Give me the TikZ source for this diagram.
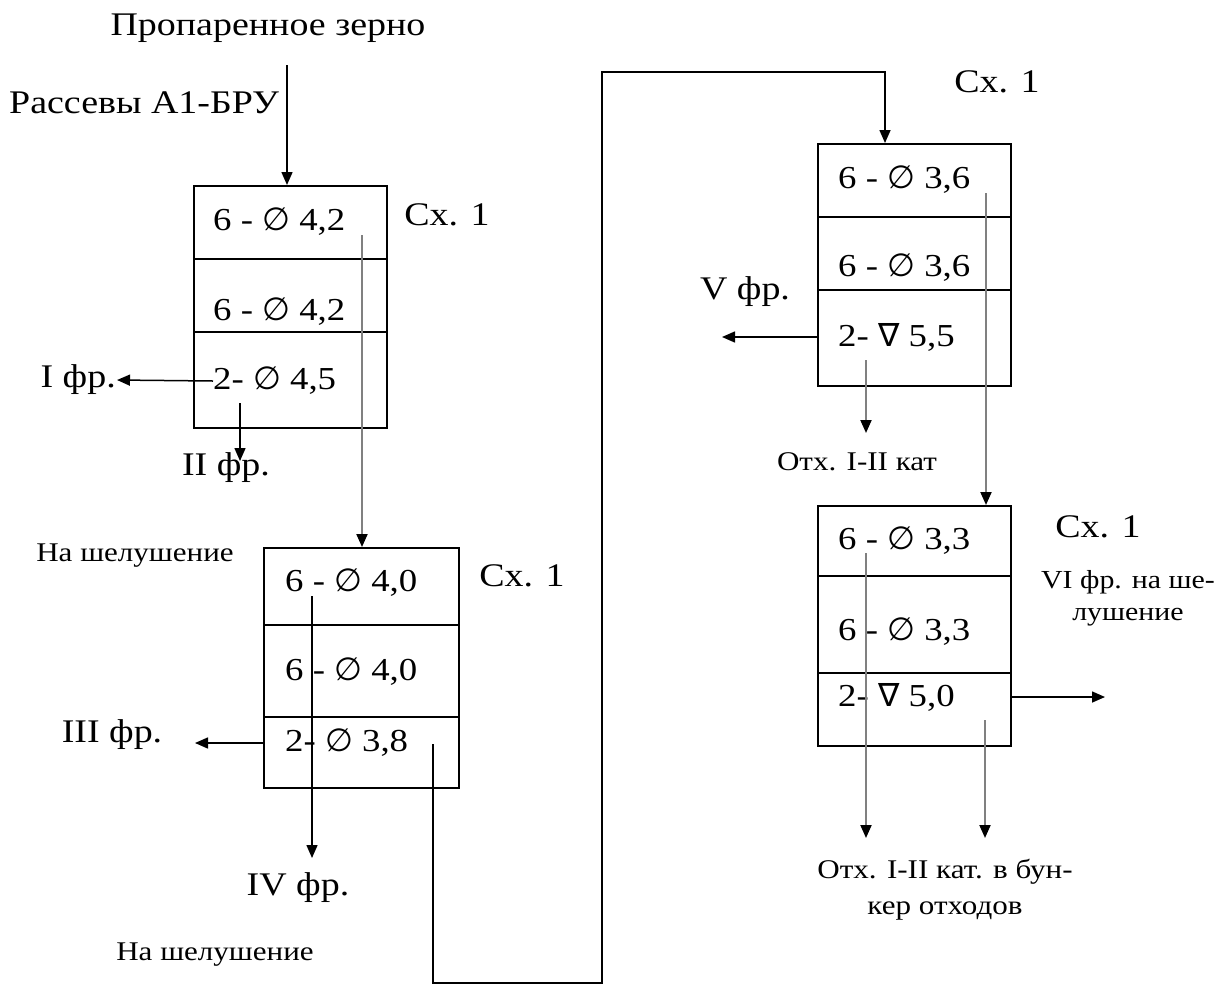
\documentclass[tikz,border=0pt]{standalone}
\usepackage{fontspec}
\setmainfont[FakeStretch=1.15]{Liberation Serif}
\newfontfamily\symf{DejaVu Sans}
\usetikzlibrary{arrows.meta, positioning, calc}
\definecolor{lineGray}{HTML}{808080}
\newcommand{\dia}{{\symf\char"2205}}
\newcommand{\nab}{{\symf\char"2207}}

\tikzset{
  rowbox/.style={draw, line width=1.5pt, minimum width=193pt, inner sep=0pt, anchor=north west},
  cell/.style={inner sep=0pt, anchor=west, font=\fontsize{32}{36}\selectfont},
  lbl/.style={inner sep=1pt, font=\fontsize{33}{36}\selectfont},
  small/.style={inner sep=1pt, font=\fontsize{27}{36}\selectfont},
  tipB/.style={-{Triangle[length=13pt,width=11pt,color=black]}},
  flow/.style={tipB, line width=1.5pt},
  grayflow/.style={tipB, line width=2pt, lineGray}
}

\begin{document}
\begin{tikzpicture}[x=1pt, y=-1pt]
  \useasboundingbox (0,0) rectangle (1226,986);

  % sieve 1
  \node[rowbox, minimum height=73pt] (b1a) at (193,185) {};
  \node[rowbox, minimum height=73pt] (b1b) at (193,258) {};
  \node[rowbox, minimum height=96pt] (b1c) at (193,331) {};
  \node[cell] (t1a) at (213,222) {6 - \dia\ 4,2};
  \node[cell] (t1b) at (213,312) {6 - \dia\ 4,2};
  \node[cell] (t1c) at (213,381) {2- \dia\ 4,5};

  % sieve 2
  \node[rowbox, minimum height=77pt, minimum width=195pt] (b2a) at (263,547) {};
  \node[rowbox, minimum height=92pt, minimum width=195pt] (b2b) at (263,624) {};
  \node[rowbox, minimum height=71pt, minimum width=195pt] (b2c) at (263,716) {};
  \node[cell] (t2a) at (285,583) {6 - \dia\ 4,0};
  \node[cell] (t2b) at (285,672) {6 - \dia\ 4,0};
  \node[cell] (t2c) at (285,743) {2- \dia\ 3,8};

  % sieve 3
  \node[rowbox, minimum height=73pt] (b3a) at (817,143) {};
  \node[rowbox, minimum height=73pt] (b3b) at (817,216) {};
  \node[rowbox, minimum height=96pt] (b3c) at (817,289) {};
  \node[cell] (t3a) at (838,180) {6 - \dia\ 3,6};
  \node[cell] (t3b) at (838,268) {6 - \dia\ 3,6};
  \node[cell] (t3c) at (838,337) {2- \nab\ 5,5};

  % sieve 4
  \node[rowbox, minimum height=70pt] (b4a) at (817,505) {};
  \node[rowbox, minimum height=97pt] (b4b) at (817,575) {};
  \node[rowbox, minimum height=73pt] (b4c) at (817,672) {};
  \node[cell] (t4a) at (838,541) {6 - \dia\ 3,3};
  \node[cell] (t4b) at (838,632) {6 - \dia\ 3,3};
  \node[cell] (t4c) at (838,697) {2- \nab\ 5,0};

  % labels
  \node[lbl] (feed) at (268,28) {Пропаренное зерно};
  \node[lbl, anchor=west] (sifter) at (8,103) {Рассевы А1-БРУ};
  \node[lbl] (sch1) at (447,215) {Сх. 1};
  \node[lbl] (sch2) at (522,576) {Сх. 1};
  \node[lbl] (sch3) at (997,82) {Сх. 1};
  \node[lbl] (sch4) at (1098,527) {Сх. 1};
  \node[lbl, anchor=east] (fr1) at (117,380) {I фр.};
  \node[lbl] (fr2) at (226,468) {II фр.};
  \node[lbl] (fr3) at (112,735) {III фр.};
  \node[lbl] (fr4) at (298,888) {IV фр.};
  \node[lbl] (fr5) at (745,292) {V фр.};
  \node[small, align=center, font=\fontsize{26}{32}\selectfont] (fr6) at (1128,598) {VI фр. на ше-\\лушение};
  \node[small] (hull1) at (135,556) {На шелушение};
  \node[small] (hull2) at (215,955) {На шелушение};
  \node[small] (waste1) at (857,462) {Отх. I-II кат};
  \node[small, align=center] (waste2) at (945,890) {Отх. I-II кат. в бун-\\кер отходов};

  % flow ends
  \coordinate (inTop) at (287,65);
  \coordinate (g1) at (362,235);
  \coordinate (d1) at (240,403);
  \coordinate (d1e) at (240,461);
  \coordinate (g2) at (312,596);
  \coordinate (g2e) at (312,858);
  \coordinate (fr3e) at (195,743);
  \coordinate (o2) at (433,744);
  \coordinate (low) at (602,983);
  \coordinate (turn) at (885,72);
  \coordinate (fr5e) at (722,337);
  \coordinate (g3) at (986,193);
  \coordinate (d3) at (866,360);
  \coordinate (d3e) at (866,433);
  \coordinate (fr6e) at (1105,697);
  \coordinate (g4) at (866,553);
  \coordinate (g4e) at (866,838);
  \coordinate (d4) at (985,720);
  \coordinate (d4e) at (985,838);

  % connectors
  \draw[flow] (inTop) -- (inTop |- b1a.north);
  \draw[grayflow] (g1) -- (g1 |- b2a.north);
  \draw[flow] (t1c.west) -- (fr1.east);
  \draw[flow] (d1) -- (d1e);
  \draw[flow] (g2) -- (g2e);
  \draw[flow] (b2c.west |- t2c) -- (fr3e);
  \draw[flow] (o2) |- (low) |- (turn) -- (turn |- b3a.north);
  \draw[flow] (b3c.west |- t3c) -- (fr5e);
  \draw[grayflow] (g3) -- (g3 |- b4a.north);
  \draw[grayflow] (d3) -- (d3e);
  \draw[flow] (b4c.east |- t4c) -- (fr6e);
  \draw[grayflow] (g4) -- (g4e);
  \draw[grayflow] (d4) -- (d4e);
\end{tikzpicture}
\end{document}
